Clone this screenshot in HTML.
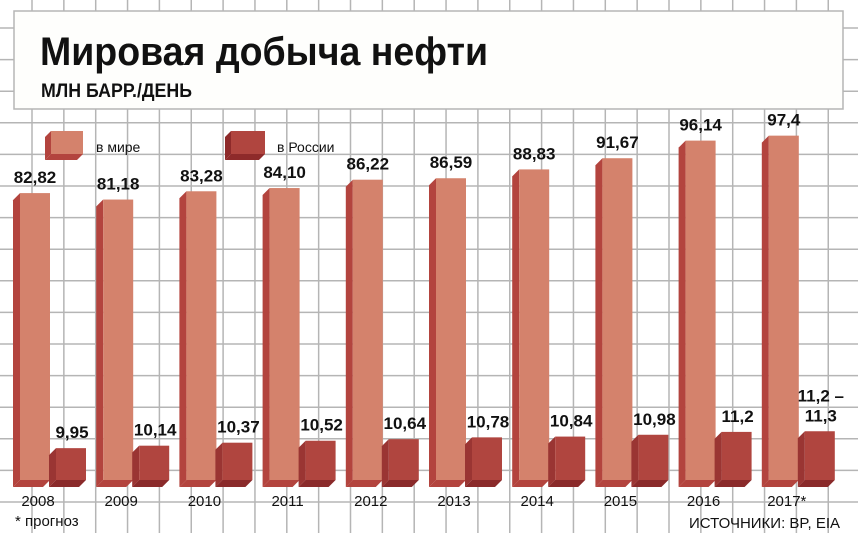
<!DOCTYPE html>
<html><head><meta charset="utf-8"><style>
body{margin:0;background:#fff}
svg{display:block}
text{font-family:"Liberation Sans",sans-serif}
</style></head><body>
<svg id="c" width="858" height="533" viewBox="0 0 858 533">
<g id="grid"></g>
<rect x="14" y="11" width="829" height="98" fill="#fefefc" stroke="#b5b5b5" stroke-width="1.5"/>
<text x="40" y="65" font-size="40" font-weight="bold" fill="#111" textLength="448" lengthAdjust="spacingAndGlyphs">Мировая добыча нефти</text>
<text x="41" y="97" font-size="19" font-weight="bold" fill="#111" textLength="151" lengthAdjust="spacingAndGlyphs">МЛН БАРР./ДЕНЬ</text>
<g>
<polygon points="45,137 51,131 51,154 45,160" fill="#b3443e"/>
<rect x="51" y="131" width="32" height="23" fill="#d4826c"/>
<polygon points="45,160 51,154 83,154 77,160" fill="#b3443e"/>
<text x="96" y="152" font-size="14" fill="#111">в мире</text>
</g>
<g>
<polygon points="225,137 231,131 231,154 225,160" fill="#8e2a2a"/>
<rect x="231" y="131" width="34" height="23" fill="#b0453f"/>
<polygon points="225,160 231,154 265,154 259,160" fill="#8e2a2a"/>
<text x="277" y="152" font-size="14" fill="#111">в России</text>
</g>
<g id="bars"></g>
<text x="15" y="526" font-size="15" fill="#111">* прогноз</text>
<text x="840" y="528" font-size="15" fill="#111" text-anchor="end">ИСТОЧНИКИ: BP, EIA</text>
</svg>
<script>
const years=["2008","2009","2010","2011","2012","2013","2014","2015","2016","2017*"];
const world=[82.82,81.18,83.28,84.10,86.22,86.59,88.83,91.67,96.14,97.4];
const russia=[9.95,10.14,10.37,10.52,10.64,10.78,10.84,10.98,11.2,11.25];
const worldLabels=["82,82","81,18","83,28","84,10","86,22","86,59","88,83","91,67","96,14","97,4"];
const russiaLabels=["9,95","10,14","10,37","10,52","10,64","10,78","10,84","10,98","11,2","11,2 –|11,3"];
const NS="http://www.w3.org/2000/svg";
const base=480, dep=7;
function yWorld(v){return base-(v-10)*3.94;}
function yRus(v){return base-(v-7.5)*13;}
function xGroup(i){return 20+i*83.2;}
function mk(tag,attrs,parent){const e=document.createElementNS(NS,tag);for(const k in attrs)e.setAttribute(k,attrs[k]);parent.appendChild(e);return e;}
const grid=document.getElementById('grid');
for(let x=32;x<858;x+=31.85){const l=mk('line',{x1:x,x2:x,y1:0,y2:533,stroke:'#b5b5b5','stroke-width':1.5},grid);

}
for(let y=28;y<533;y+=31.6){const l=mk('line',{x1:0,x2:858,y1:y,y2:y,stroke:'#b5b5b5','stroke-width':1.5},grid);

}
const bars=document.getElementById('bars');
function bar3d(x,top,w,front,side,bottom,name){
 const g=mk('g',{},bars);
 
 
 mk('polygon',{points:`${x-dep},${top+dep} ${x},${top} ${x},${base} ${x-dep},${base+dep}`,fill:side},g);
 mk('rect',{x:x,y:top,width:w,height:base-top,fill:front},g);
 mk('polygon',{points:`${x-dep},${base+dep} ${x},${base} ${x+w},${base} ${x+w-dep},${base+dep}`,fill:bottom},g);
}
years.forEach((yr,i)=>{
 const xw=xGroup(i), xr=xw+36;
 const tw=yWorld(world[i]), tr=yRus(russia[i]);
 bar3d(xw,tw,30,'#d4826c','#b3443e','#b3443e','bar-world-'+i);
 bar3d(xr,tr,30,'#b0453f','#9a3533','#8a2a2a','bar-russia-'+i);
 const lw=mk('text',{x:xw+15,y:tw-10,'font-size':17,'font-weight':'bold','text-anchor':'middle',fill:'#111'},bars);
 lw.textContent=worldLabels[i];
 
 
 const parts=russiaLabels[i].split('|');
 parts.forEach((p,j)=>{
  const lr=mk('text',{x:xr+16,y:tr-10-(parts.length-1-j)*20,'font-size':17,'font-weight':'bold','text-anchor':'middle',fill:'#111'},bars);
  lr.textContent=p;
  
  
 });
 const yl=mk('text',{x:xw+18,y:506,'font-size':15,'text-anchor':'middle',fill:'#111'},bars);
 yl.textContent=yr;
 
 
});
</script>
</body></html>
